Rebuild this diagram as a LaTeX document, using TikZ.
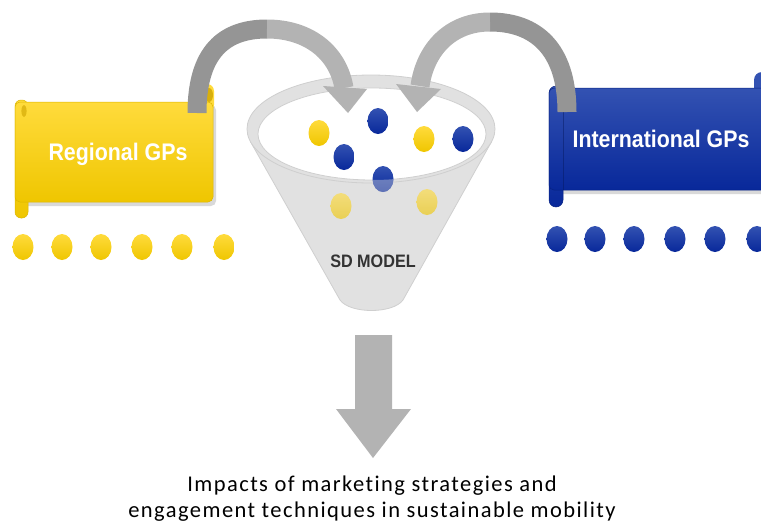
\documentclass[tikz,border=0pt]{standalone}
\usepackage{fontspec}
\setmainfont{Carlito}
\newfontfamily\headfont{Liberation Sans}
\newfontfamily\capfont{Carlito}[LetterSpace=6.4, Ligatures=NoCommon]
\definecolor{ytop}{HTML}{FFDB3C}
\definecolor{ybot}{HTML}{EFC600}
\definecolor{ycurl}{HTML}{CFA400}
\definecolor{btop}{HTML}{3352B2}
\definecolor{bbot}{HTML}{08289A}
\definecolor{arrowdark}{HTML}{959595}
\definecolor{arrowlight}{HTML}{B3B3B3}
\definecolor{funnelfill}{HTML}{E1E1E1}
\definecolor{funneledge}{HTML}{CFCFCF}
\definecolor{modeltext}{HTML}{333333}
\tikzset{
  ydot/.style={top color=ytop, bottom color=ybot},
  bdot/.style={top color=btop, bottom color=bbot},
  ybanner/.style={top color=ytop, bottom color=ybot, draw=ybot!92!black, line width=0.5},
  bbanner/.style={top color=btop, bottom color=bbot, draw=bbot!85!black, line width=0.5},
  bannertext/.style={font=\headfont\bfseries\fontsize{24}{24}\selectfont, text=white, anchor=base, inner sep=0},
  band/.style={line width=19},
  caption/.style={font=\capfont\fontsize{22.5}{26}\selectfont, text=black, anchor=base, inner sep=0},
}
\newcommand{\dotrx}{10.5}
\newcommand{\dotry}{13}
\begin{document}
\begin{tikzpicture}[x=1pt,y=-1pt]
\useasboundingbox (0,0) rectangle (761,525);
\clip (0,0) rectangle (761,525);

% ---------- funnel ----------
\filldraw[fill=funnelfill, draw=funneledge, line width=0.8]
  (250.6,141.9) -- (340,300) .. controls (350,314) and (393,314) .. (403,300) -- (491.5,141.8) -- cycle;
\filldraw[fill=funnelfill, draw=funneledge, line width=0.8]
  (371,129) ellipse [x radius=124, y radius=54];
\filldraw[fill=white, draw=funneledge, line width=0.8]
  (372,134) ellipse [x radius=114, y radius=46];

% dots inside the funnel mouth
\shade[ydot] (319,133) ellipse [x radius=\dotrx, y radius=\dotry];
\shade[ydot] (424,139) ellipse [x radius=\dotrx, y radius=\dotry];
\shade[bdot] (378,121) ellipse [x radius=\dotrx, y radius=\dotry];
\shade[bdot] (344,157) ellipse [x radius=\dotrx, y radius=\dotry];
\shade[bdot] (463,139) ellipse [x radius=\dotrx, y radius=\dotry];
\shade[bdot] (383,179) ellipse [x radius=\dotrx, y radius=\dotry];
% the part of this dot below the rim is seen through the funnel wall
\begin{scope}
  \clip (383,179) ellipse [x radius=\dotrx, y radius=\dotry];
  \fill[funnelfill, opacity=0.4, even odd rule]
    (300,120) rectangle (460,220) (372,134) ellipse [x radius=114, y radius=46];
\end{scope}
% dots already inside the cone
\shade[ydot, opacity=0.62] (341,206) ellipse [x radius=\dotrx, y radius=\dotry];
\shade[ydot, opacity=0.62] (427,202) ellipse [x radius=\dotrx, y radius=\dotry];

\node[font=\headfont\bfseries\fontsize{18}{18}\selectfont, text=modeltext, anchor=base, inner sep=0]
  (sdmodel) at (373,267) {\scalebox{0.9}[1]{SD MODEL}};

% ---------- regional banner ----------
\fill[black!15] (17,105) [rounded corners=5] rectangle (216,206);
\fill[ytop] (190,84) [rounded corners=7] rectangle (214,112);
\fill[ycurl, opacity=0.8] (209,95) ellipse [x radius=4, y radius=7];
\shadedraw[ybanner] (15,100) [rounded corners=6] rectangle (28,218);
\shadedraw[ybanner] (15,102) [rounded corners=5] rectangle (213,202);
\fill[ycurl, opacity=0.6] (24,111) ellipse [x radius=2.6, y radius=6];
\node[bannertext] (regional) at (118,160) {\scalebox{0.89}[1]{Regional GPs}};

% yellow dots
\foreach \x in {23,62,101,142,182,224}
  \shade[ydot] (\x,247) ellipse [x radius=\dotrx, y radius=\dotry];

% ---------- international banner ----------
\fill[black!15] (551,91) [rounded corners=5] rectangle (790,194);
\fill[btop] (754,72) [rounded corners=8] rectangle (790,120);
\shadedraw[bbanner] (549,86) [rounded corners=7] rectangle (563,207);
\shadedraw[bbanner] (549,88) [rounded corners=5] rectangle (790,190);
\draw[bbot!60!black, opacity=0.45, line width=0.8] (563,96) -- (563,190);
\node[bannertext] (international) at (661,147) {\scalebox{0.89}[1]{International GPs}};

% blue dots
\foreach \x in {557,595,634,675,715,757}
  \shade[bdot] (\x,239) ellipse [x radius=\dotrx, y radius=\dotry];

% ---------- curved arrows into the funnel ----------
\coordinate (la0) at (197,113);
\coordinate (la1) at (267,29);
\coordinate (la2) at (344,88);
\draw[band, arrowdark] (la0) .. controls (197,52) and (224,29) .. (la1);
\draw[band, arrowlight] (la1) .. controls (308,29) and (338,52) .. (la2);
\fill[arrowlight] (323,86) -- (367,89) -- (348,113) -- cycle;

\coordinate (ra0) at (567,112);
\coordinate (ra1) at (490,22);
\coordinate (ra2) at (420,86);
\draw[band, arrowdark] (ra0) .. controls (567,48) and (535,22) .. (ra1);
\draw[band, arrowlight] (ra1) .. controls (450,22) and (425,50) .. (ra2);
\fill[arrowlight] (396,84) -- (441,89) -- (417,112) -- cycle;

% ---------- output arrow ----------
\fill[arrowlight] (355,335) -- (392,335) -- (392,409) -- (411,409) -- (373,458)
  -- (336,409) -- (355,409) -- cycle;

\node[caption] (line1) at (372,491) {Impacts of marketing strategies and};
\node[caption] (line2) at (372,517) {engagement techniques in sustainable mobility};
\end{tikzpicture}
\end{document}
